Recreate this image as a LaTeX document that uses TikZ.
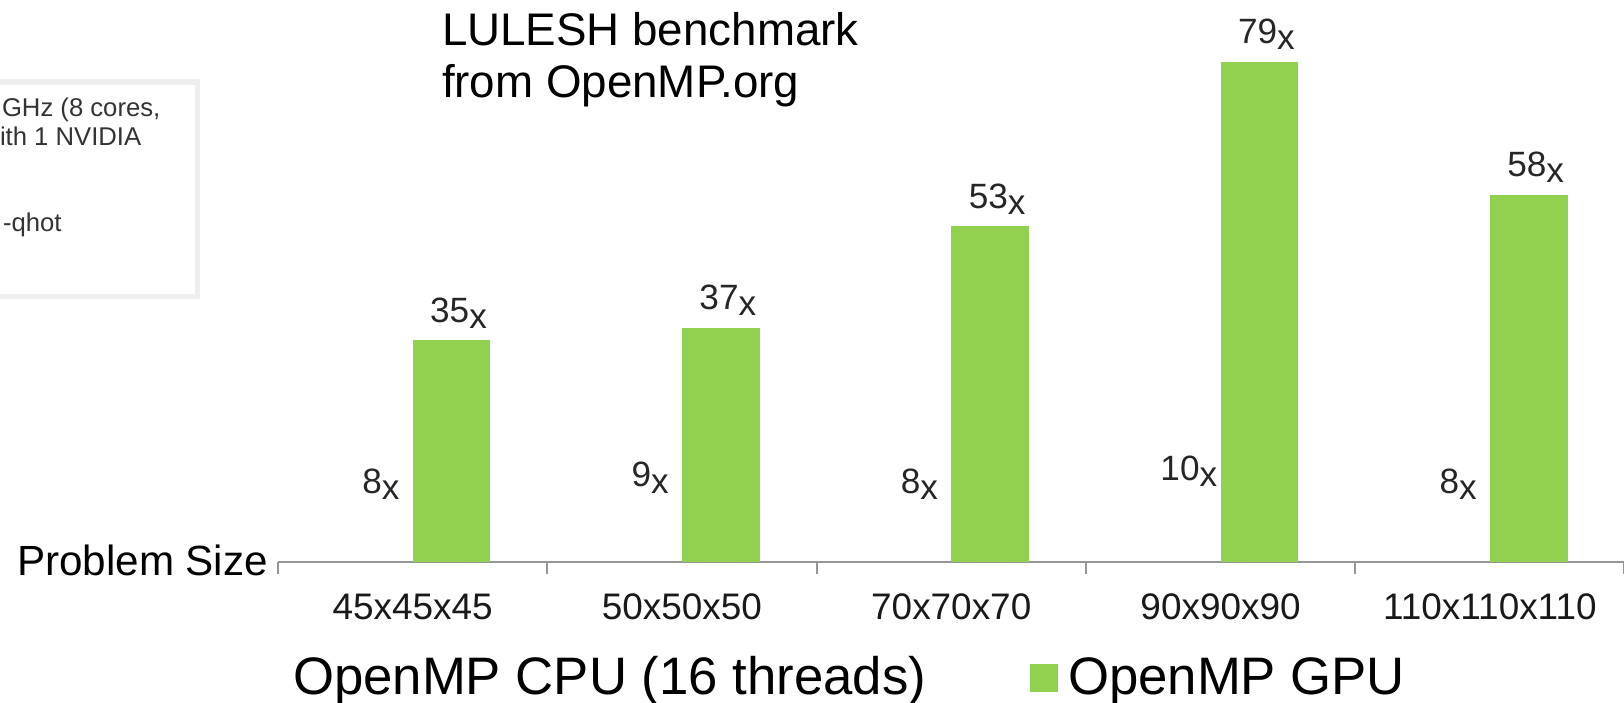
\documentclass[tikz,border=0pt]{standalone}
\usepackage{fontspec}
\setmainfont{Liberation Sans}
\usepackage{xcolor}
\usepackage{tikz}
\usetikzlibrary{calc}
\usetikzlibrary{positioning}

\definecolor{gpugreen}{RGB}{146,208,80}
\definecolor{axisgray}{RGB}{150,150,150}
\definecolor{boxgray}{RGB}{238,238,238}
\newcommand{\tms}[1]{#1\raisebox{-1.8pt}{x}}

\begin{document}
\begin{tikzpicture}[x=0.01cm,y=0.01cm,inner sep=0pt,outer sep=0pt,node distance=3.4pt]
		\tikzstyle{gpubar}=[fill=gpugreen, minimum width=0.776cm, anchor=south west]
		\tikzstyle{val}=[font=\fontsize{10pt}{12pt}\selectfont, text=black!85]
		\tikzstyle{cat}=[font=\fontsize{10.5pt}{12pt}\selectfont, text=black!90]
		\tikzstyle{legend}=[font=\fontsize{15pt}{18pt}\selectfont, anchor=base west]
		\tikzstyle{axis}=[draw=axisgray, line width=0.6pt]
		\tikzstyle{note}=[font=\fontsize{7.3pt}{8pt}\selectfont, text=black!80, anchor=west]

	\useasboundingbox (0,0) rectangle (1624,702);
	\clip (0,0) rectangle (1624,702);

	% box at the left, cut by the edge
	\draw[boxgray, line width=1.6pt] (-20,620) rectangle (197.5,405.5);
	\node[note] (n1) at (2,592) {GHz (8 cores,};
	\node[note] (n2) at (0,566) {ith 1 NVIDIA};
	\node[note] (n3) at (3,477) {-qhot};

	\node[font=\fontsize{13pt}{14.8pt}\selectfont, anchor=north west, align=left] (title) at (442,690) {LULESH benchmark\\from OpenMP.org};

	% axis
	\coordinate (o) at (278,140);
	\draw[axis] (o) -- (1640,140);
	\foreach \k in {0,...,5}{
		\draw[axis] ($(o)+(269.3*\k,0)$) -- ++(0,-12);
		}
	\node[font=\fontsize{12pt}{14pt}\selectfont, anchor=east] (ps) at (268,142) {Problem Size};

	% bars
	\foreach \i/\g/\c/\name in {1/35/8/45x45x45, 2/37/9/50x50x50, 3/53/8/70x70x70, 4/79/10/90x90x90, 5/58/8/110x110x110}{
		\pgfmathsetmacro\xc{278+269.3*(\i-0.5)}
		\node[gpubar, minimum height=\g*0.0633cm] (g\i) at (\xc,140) {};
		\node[val, above=of g\i.north, xshift=2pt] (gv\i) {\tms{\g}};
		\coordinate (c\i) at (\xc-38.8,140+6.33*\c);
		\node[val, above=of c\i, xshift=2pt] (cv\i) {\tms{\c}};
		\node[cat] (t\i) at (\xc,95) {\name};
		}

	% legend
	\node[legend] (lcpu) at (293,8) {OpenMP CPU (16 threads)};
	\node[fill=gpugreen, minimum width=0.28cm, minimum height=0.28cm, anchor=south west] (lsq) at (1030,10) {};
	\node[legend] (lgpu) at (1068,8) {OpenMP GPU};
\end{tikzpicture}
\end{document}
